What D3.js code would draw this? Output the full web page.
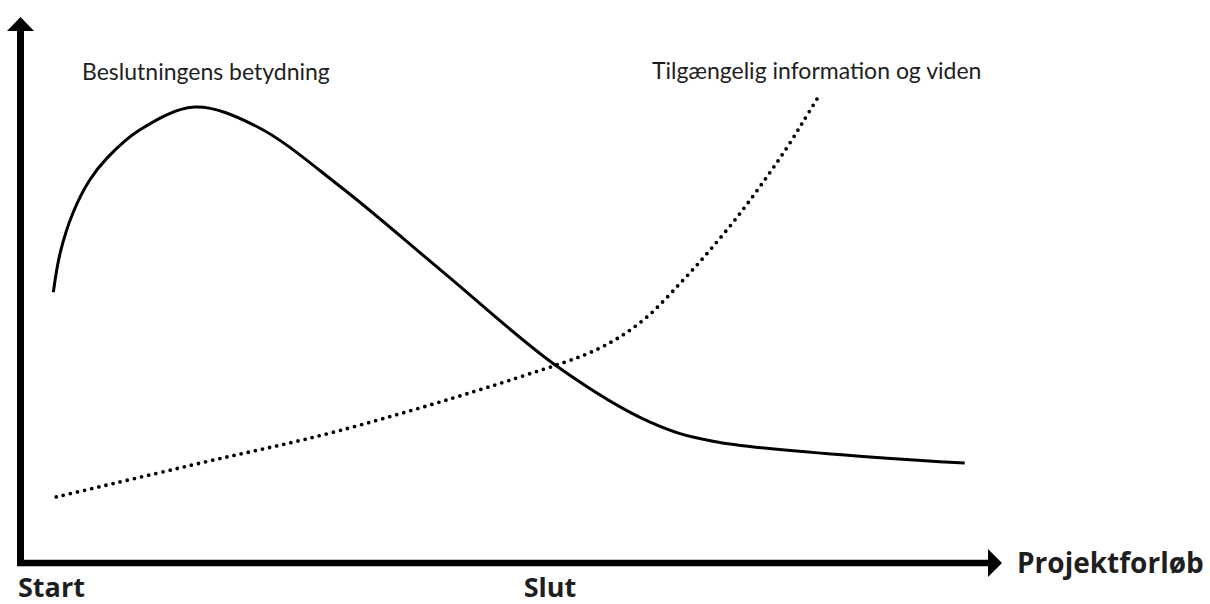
<!DOCTYPE html>
<html>
<head>
<meta charset="utf-8">
<script src="https://cdn.jsdelivr.net/npm/d3@7"></script>
<style>
  body { margin: 0; background: #fff; }
  svg { display: block; }
  text { fill: #1e1e1e; font-family: Lato, "Noto Sans", sans-serif; }
  .bold { font-family: "Open Sans", Lato, sans-serif; font-weight: bold; }
</style>
</head>
<body>
<svg width="1210" height="604"></svg>
<script>
// project phase (0 = start, 100 = end of axis), importance / information level (0-100)
const decisionX = [3.4, 4.1, 5.4, 7.1, 8.9, 12.2, 17.8, 24.2, 32.7, 42.9, 54.9, 64.3, 70.7, 96.4];
const decisionY = [49.6, 56.8, 64.1, 70.1, 74.2, 79.3, 83.5, 79.9, 68.9, 53.7, 35.9, 25.8, 22.3, 18.3];

const infoX = [3.7, 18.4, 32.5, 50.7, 59.2, 63.6, 67.4, 70.4, 73.5, 76.2, 78.3, 79.9, 81.4];
const infoY = [12.1, 18.3, 24.2, 33.9, 39.4, 44.5, 51.3, 57.3, 64.1, 70.7, 76.2, 80.8, 85.2];

const seriesLabels = ['Beslutningens betydning', 'Tilgængelig information og viden'];
const axisLabel = 'Projektforløb';
const phaseLabels = ['Start', 'Slut'];
const phasePos = [0, 51.6];

const svg = d3.select('svg');

const x = d3.scaleLinear().domain([0, 100]).range([20, 1000]);
const y = d3.scaleLinear().domain([0, 100]).range([563, 17]);

// axes with arrow heads
svg.append('line')
    .attr('x1', x(0) + 0.5).attr('y1', y(0) + 3)
    .attr('x2', x(0) + 0.5).attr('y2', y(100) + 12)
    .attr('stroke', '#000').attr('stroke-width', 7);
svg.append('path')
    .attr('d', `M${x(0) + 0.5},${y(100)} L${x(0) + 14},${y(100) + 14} L${x(0) - 13},${y(100) + 14} Z`)
    .attr('fill', '#000');

svg.append('line')
    .attr('x1', x(0) - 3).attr('y1', y(0))
    .attr('x2', x(100) - 12).attr('y2', y(0))
    .attr('stroke', '#000').attr('stroke-width', 6.5);
svg.append('path')
    .attr('d', `M${x(100) + 2},${y(0)} L${x(100) - 12},${y(0) - 14} L${x(100) - 12},${y(0) + 14} Z`)
    .attr('fill', '#000');

const line = d3.line()
    .x(d => x(d[0]))
    .y(d => y(d[1]))
    .curve(d3.curveCatmullRom.alpha(0.5));

svg.append('path')
    .datum(d3.zip(decisionX, decisionY))
    .attr('d', line)
    .attr('fill', 'none')
    .attr('stroke', '#000')
    .attr('stroke-width', 3);

svg.append('path')
    .datum(d3.zip(infoX, infoY))
    .attr('d', line)
    .attr('fill', 'none')
    .attr('stroke', '#000')
    .attr('stroke-width', 3.8)
    .attr('stroke-linecap', 'round')
    .attr('stroke-dasharray', '0 7.3');

// labels
svg.append('text')
    .attr('x', 82).attr('y', 80)
    .style('font-size', '23px')
    .text(seriesLabels[0]);
svg.append('text')
    .attr('x', 652).attr('y', 79)
    .style('font-size', '23px')
    .text(seriesLabels[1]);

svg.append('text')
    .classed('bold', true)
    .attr('x', 1017).attr('y', 573)
    .style('font-size', '28px')
    .text(axisLabel);

svg.selectAll('.phase')
    .data(phaseLabels)
    .enter()
    .append('text')
    .classed('phase bold', true)
    .attr('x', (d, i) => x(phasePos[i]) - 2)
    .attr('y', 597)
    .style('font-size', '27px')
    .text(d => d);
</script>
</body>
</html>
